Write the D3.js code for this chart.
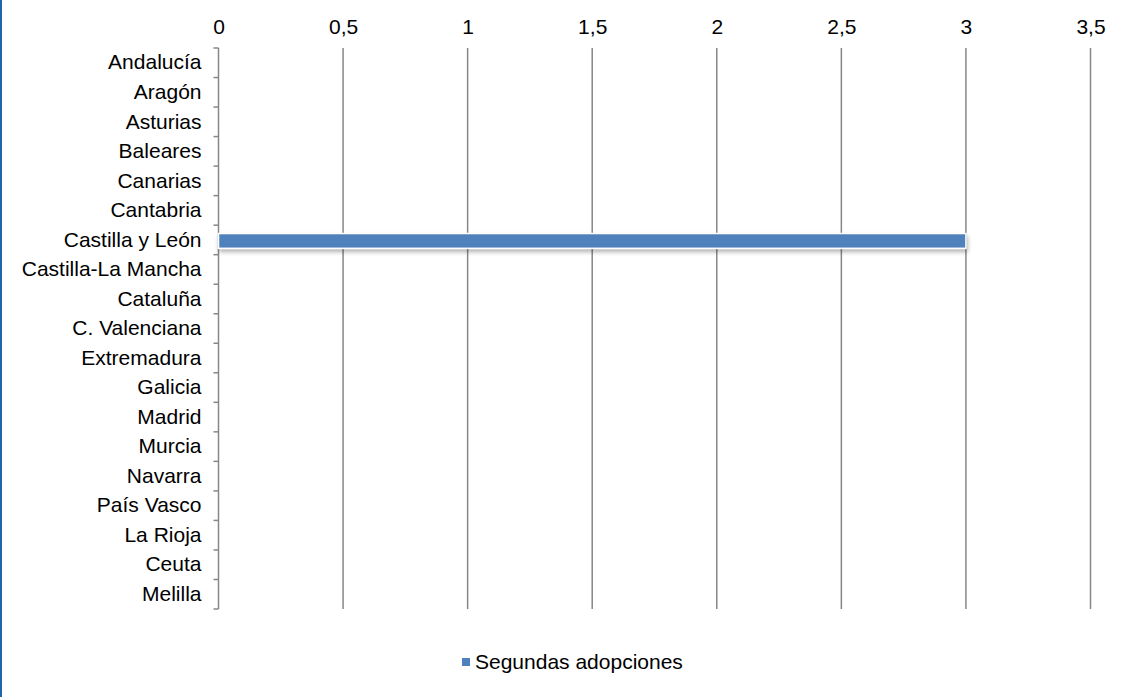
<!DOCTYPE html>
<html><head><meta charset="utf-8">
<script src="https://cdn.jsdelivr.net/npm/d3@7"></script>
<style>body{margin:0;background:#fff;}svg{display:block;font-family:"Liberation Sans",Arial,sans-serif;}</style>
</head><body><svg id="c" width="1129" height="697"></svg>
<script>
const categories = ["Andalucía","Aragón","Asturias","Baleares","Canarias","Cantabria","Castilla y León","Castilla-La Mancha","Cataluña","C. Valenciana","Extremadura","Galicia","Madrid","Murcia","Navarra","País Vasco","La Rioja","Ceuta","Melilla"];
const values = [0,0,0,0,0,0,3,0,0,0,0,0,0,0,0,0,0,0,0];
const tickValues = [0,0.5,1,1.5,2,2.5,3,3.5];
const seriesName = "Segundas adopciones";

const FS = 21;
const svg = d3.select("#c");
const W = 1129, H = 697;
const m = {left:218.5, right:1090.5, top:48, bottom:609};
svg.append("rect").attr("x",0).attr("y",0).attr("width",2).attr("height",H).attr("fill","#1f66a8");

const x = d3.scaleLinear().domain([0,3.5]).range([m.left,m.right]);
const y = d3.scaleBand().domain(categories).range([m.top+1,m.bottom+1]).paddingInner(0.5).paddingOuter(0.25);
const yb = d3.scaleBand().domain(categories).range([m.top,m.bottom]);

// gridlines
svg.append("g").selectAll("line").data(tickValues.slice(1)).join("line")
  .attr("x1",d=>x(d)).attr("x2",d=>x(d)).attr("y1",m.top).attr("y2",m.bottom)
  .attr("stroke","#878787").attr("stroke-width",1.5);

// top tick labels
const xa = d3.axisTop(x).tickValues(tickValues).tickSize(0).tickPadding(0)
  .tickFormat(d=>String(d).replace(".",","));
const gx = svg.append("g").attr("transform",`translate(0,${34})`).call(xa);
gx.select(".domain").remove();
gx.selectAll("text").attr("font-size",FS).attr("fill","#000").attr("font-family","Liberation Sans, Arial, sans-serif");

// left axis with bracket ticks
const ya = d3.axisLeft(yb).tickSize(0).tickPadding(17);
const gy = svg.append("g").attr("transform",`translate(${m.left},0)`).call(ya);
gy.select(".domain").remove();
gy.selectAll("text").attr("font-size",FS).attr("fill","#000").attr("font-family","Liberation Sans, Arial, sans-serif");
svg.append("line").attr("x1",m.left).attr("x2",m.left).attr("y1",m.top).attr("y2",m.bottom).attr("stroke","#878787").attr("stroke-width",1.5);
const bounds = categories.map(c=>yb(c)).concat([m.bottom]);
svg.append("g").selectAll("line").data(bounds).join("line")
  .attr("x1",m.left-5).attr("x2",m.left).attr("y1",d=>d).attr("y2",d=>d)
  .attr("stroke","#878787").attr("stroke-width",1.5);

// shadow filter
const defs = svg.append("defs");
const f = defs.append("filter").attr("id","sh").attr("x","-5%").attr("y","-50%").attr("width","110%").attr("height","250%");
f.append("feDropShadow").attr("dx",1).attr("dy",3).attr("stdDeviation",2).attr("flood-color","#000").attr("flood-opacity",0.3);

svg.append("g").selectAll("rect").data(categories.map((c,i)=>({c,v:values[i]})).filter(d=>d.v>0)).join("rect")
  .attr("x",x(0)).attr("y",d=>y(d.c)).attr("width",d=>x(d.v)-x(0)).attr("height",y.bandwidth())
  .attr("fill","#4f81bd").attr("stroke","#fff").attr("stroke-width",1.5).attr("filter","url(#sh)");

// legend
const lg = svg.append("g").attr("transform","translate(462,658)");
lg.append("rect").attr("width",8).attr("height",8).attr("fill","#4f81bd");
lg.append("text").attr("x",13).attr("y",4).attr("dy","0.35em").attr("font-size",FS).attr("fill","#000").text(seriesName);
</script></body></html>
